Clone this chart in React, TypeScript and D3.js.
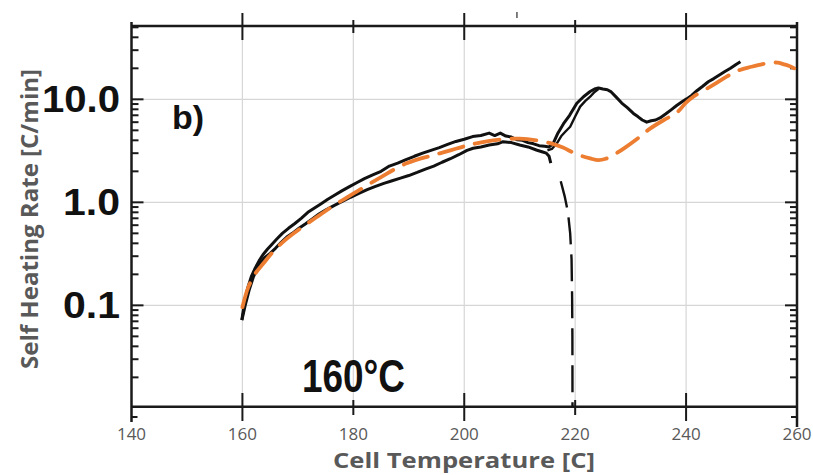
import React from "react";
import * as d3 from "d3";

// ---- data ----
const xTicks = [140, 160, 180, 200, 220, 240, 260];
const yTickLabels = ["10.0", "1.0", "0.1"];
const yTickValues = [10, 1, 0.1];
const gridX = [160, 180, 200, 220, 240];

// orange dashed model fit
const fitT = [160, 161.1, 162.5, 163.8, 165.5, 167.7, 170.5, 173.4, 177, 180.6, 185, 189.6, 195.6, 200, 202.2, 206, 210, 213, 215.5, 217.8, 219.7, 221.3, 222.7, 224.2, 225.5, 226.9, 229, 231.7, 233.5, 236, 238.3, 240, 241.3, 244.9, 247.3, 249.7, 251.8, 253.8, 255.1, 256.5, 257.5, 258.5, 259.5];
const fitV = [0.096, 0.152, 0.21, 0.256, 0.33, 0.43, 0.56, 0.72, 0.97, 1.27, 1.76, 2.39, 2.99, 3.5, 3.74, 4.05, 4.15, 4.0, 3.75, 3.4, 3.03, 2.8, 2.67, 2.57, 2.65, 2.88, 3.4, 4.34, 5.2, 6.3, 7.4, 9.3, 10.6, 13.8, 16.6, 19.3, 20.7, 22.0, 22.7, 22.7, 22.0, 21.2, 20.0];

// experimental trace A (upper path, through the peak)
const traceAT = [159.9, 160.4, 161, 161.6, 162.3, 163, 163.7, 164.5, 165.3, 166.2, 167.2, 168.3, 169.4, 170.6, 171.8, 173, 174.2, 175.4, 176.6, 178, 179.3, 180.6, 182, 183.5, 185, 186.5, 188, 189.5, 191, 192.5, 194, 195.5, 197, 198.5, 200, 201.5, 203, 204.5, 205.5, 206.5, 207.5, 208.5, 209.5, 210.5, 211.5, 212.5, 213.5, 214.5, 215.3, 216, 216.8, 217.9, 219, 220.3, 221.5, 222.7, 223.5, 224.2, 225, 225.8, 226.5, 227.4, 228.4, 229.4, 230.5, 231.3, 232.1, 232.9, 233.7, 234.5, 235.3, 236.3, 237.3, 238.3, 239.2, 240.1, 241, 242, 243, 244, 245, 246, 247, 248, 249, 249.8];
const traceAV = [0.072, 0.11, 0.15, 0.19, 0.23, 0.27, 0.31, 0.35, 0.39, 0.44, 0.5, 0.56, 0.62, 0.7, 0.8, 0.88, 0.97, 1.07, 1.17, 1.3, 1.42, 1.55, 1.7, 1.85, 2.0, 2.25, 2.4, 2.6, 2.8, 3.0, 3.2, 3.4, 3.65, 3.9, 4.1, 4.35, 4.45, 4.7, 4.45, 4.7, 4.4, 4.3, 4.05, 4.0, 3.8, 3.7, 3.55, 3.5, 3.45, 3.7, 4.6, 5.8, 7.0, 9.15, 10.6, 11.9, 12.6, 12.9, 12.6, 12.4, 11.8, 10.5, 9.2, 8.3, 7.3, 6.8, 6.3, 6.0, 6.2, 6.3, 6.6, 7.2, 7.9, 8.7, 9.4, 10.1, 10.9, 12.2, 13.4, 14.8, 15.9, 17.2, 18.6, 20, 21.8, 23.2];

// experimental trace B (lower path, ending in a downward tail)
const traceBT = [159.9, 160.5, 161.2, 162, 163, 164, 165, 166, 167, 168, 169, 170.2, 171.4, 172.6, 173.8, 175, 176.5, 178, 179.5, 181, 182.5, 184, 185.5, 187, 188.5, 190, 191.5, 193, 194.5, 196, 197.5, 199, 200.5, 201.6, 203, 204.5, 206, 207, 208.5, 210, 211.5, 213, 214, 214.8, 215.3, 215.6];
const traceBV = [0.072, 0.1, 0.14, 0.19, 0.25, 0.29, 0.32, 0.36, 0.41, 0.46, 0.5, 0.56, 0.62, 0.69, 0.77, 0.84, 0.93, 1.02, 1.12, 1.22, 1.33, 1.43, 1.53, 1.62, 1.72, 1.82, 1.95, 2.1, 2.25, 2.45, 2.65, 2.9, 3.2, 3.35, 3.45, 3.6, 3.7, 3.88, 3.8, 3.6, 3.45, 3.22, 3.1, 3.0, 2.8, 2.4];

// experimental trace C (second rising branch into the peak)
const traceCT = [215, 215.8, 216.7, 217.5, 218.3, 219.1, 220, 220.9, 221.8, 222.7, 223.5, 224.2];
const traceCV = [3.2, 3.3, 3.74, 4.4, 4.9, 5.42, 6.8, 8.5, 9.6, 10.6, 11.8, 12.6];

// black dashed drop-off
const dropT = [217.4, 218.1, 218.7, 219.1, 219.35, 219.45, 219.5, 219.52];
const dropV = [1.6, 1.15, 0.8, 0.5, 0.28, 0.12, 0.05, 0.0104];

const W = 813;
const H = 475;

export default function App() {
  const x = d3.scaleLinear().domain([140, 260]).range([131.5, 797]);
  const y = d3.scaleLog().domain([0.01038, 51.5]).range([406.7, 26]);
  const x0 = x(140), x1 = x(260), yTop = y(51.5), yBot = y(0.01038);

  const line = d3
    .line<[number, number]>()
    .x((d) => x(d[0]))
    .y((d) => y(d[1]));
  const smooth = d3
    .line<[number, number]>()
    .x((d) => x(d[0]))
    .y((d) => y(d[1]))
    .curve(d3.curveCatmullRom.alpha(0.5));

  const zip = (a: number[], b: number[]) => a.map((t, i) => [t, b[i]] as [number, number]);

  const minorTicks = y.ticks().filter((v) => v >= 0.0104 && v <= 51.5);
  const isDecade = (v: number) => Math.abs(Math.log10(v) - Math.round(Math.log10(v))) < 1e-6;

  const axisColor = "#1a1a1a";
  const gray = "#595959";

  return (
    <svg width={W} height={H} style={{ position: "absolute", left: 0, top: 0, background: "#fff" }}>
      <rect x={0} y={0} width={W} height={H} fill="#fff" />
      {/* grid */}
      {gridX.map((t) => (
        <line key={"gx" + t} x1={x(t)} x2={x(t)} y1={yTop} y2={yBot} stroke="#d6d6d6" strokeWidth={1.2} />
      ))}
      {yTickValues.map((v) => (
        <line key={"gy" + v} x1={x0} x2={x1} y1={y(v)} y2={y(v)} stroke="#d6d6d6" strokeWidth={1.2} />
      ))}

      {/* minor/major log ticks left & right */}
      {minorTicks.map((v, i) => {
        const len = isDecade(v) ? 12 : 7;
        return (
          <g key={"mt" + i}>
            <line x1={x0} x2={x0 + len} y1={y(v)} y2={y(v)} stroke={axisColor} strokeWidth={2} />
            <line x1={x1} x2={x1 - len} y1={y(v)} y2={y(v)} stroke={axisColor} strokeWidth={2} />
          </g>
        );
      })}

      {/* x ticks top & bottom */}
      {gridX.map((t, i) => {
        const long = i % 2 === 0;
        return (
          <g key={"xt" + t}>
            <line x1={x(t)} x2={x(t)} y1={long ? 13 : 20} y2={long ? 40 : 33} stroke={axisColor} strokeWidth={2} />
            <line x1={x(t)} x2={x(t)} y1={long ? 393 : 400} y2={long ? 421 : 415} stroke={axisColor} strokeWidth={2} />
          </g>
        );
      })}
      <line x1={x(209.5)} x2={x(209.5)} y1={12} y2={18} stroke="#555" strokeWidth={1.5} />

      {/* frame */}
      <line x1={x0} x2={x1} y1={yTop} y2={yTop} stroke={axisColor} strokeWidth={2.5} />
      <line x1={x0} x2={x1} y1={yBot} y2={yBot} stroke={axisColor} strokeWidth={2.5} />
      <line x1={x0} x2={x0} y1={yTop - 4} y2={422} stroke={axisColor} strokeWidth={2.5} />
      <line x1={x1} x2={x1} y1={yTop - 4} y2={427} stroke={axisColor} strokeWidth={2.5} />
      <line x1={x0} x2={x0 + 6} y1={417} y2={417} stroke={axisColor} strokeWidth={2} />
      <line x1={x1} x2={x1 - 6} y1={417} y2={417} stroke={axisColor} strokeWidth={2} />

      {/* experimental traces */}
      <path d={line(zip(traceBT, traceBV)) || ""} fill="none" stroke="#111" strokeWidth={3} strokeLinejoin="round" />
      <path d={line(zip(traceAT, traceAV)) || ""} fill="none" stroke="#111" strokeWidth={3} strokeLinejoin="round" />
      <path d={line(zip(traceCT, traceCV)) || ""} fill="none" stroke="#111" strokeWidth={2.4} strokeLinejoin="round" />
      <path d={line(zip(dropT, dropV)) || ""} fill="none" stroke="#111" strokeWidth={2.4} strokeDasharray="27 10" />

      {/* model fit */}
      <path d={smooth(zip(fitT, fitV)) || ""} fill="none" stroke="#ED7D31" strokeWidth={3.8} strokeDasharray="25 12" strokeLinecap="round" />

      {/* y tick labels */}
      {yTickLabels.map((s, i) => (
        <text key={"yl" + s} x={120} y={y(yTickValues[i]) + 13} textAnchor="end" fontFamily="Liberation Sans, Arial, sans-serif" fontWeight="bold" fontSize={36} fill="#111" textLength={s.length === 4 ? 78 : 57} lengthAdjust="spacingAndGlyphs">
          {s}
        </text>
      ))}

      {/* x tick labels */}
      {xTicks.map((t) => (
        <text key={"xl" + t} x={x(t)} y={440} textAnchor="middle" fontFamily="Open Sans, sans-serif" fontSize={17} fill={gray}>
          {t}
        </text>
      ))}

      {/* titles */}
      <text x={464} y={468} textAnchor="middle" fontFamily="Open Sans, sans-serif" fontWeight="bold" fontSize={22} fill={gray} textLength={262} lengthAdjust="spacingAndGlyphs">
        Cell Temperature [C]
      </text>
      <text transform="translate(38,219) rotate(-90)" textAnchor="middle" fontFamily="Open Sans, sans-serif" fontWeight="bold" fontSize={23} fill={gray} textLength={300} lengthAdjust="spacingAndGlyphs">
        Self Heating Rate [C/min]
      </text>

      {/* annotations */}
      <text x={172} y={129} fontFamily="Liberation Sans, Arial, sans-serif" fontWeight="bold" fontSize={34} fill="#111">
        b)
      </text>
      <text x={302} y={392} fontFamily="Liberation Sans, Arial, sans-serif" fontWeight="bold" fontSize={46} fill="#111" textLength={103} lengthAdjust="spacingAndGlyphs">
        160°C
      </text>
    </svg>
  );
}
